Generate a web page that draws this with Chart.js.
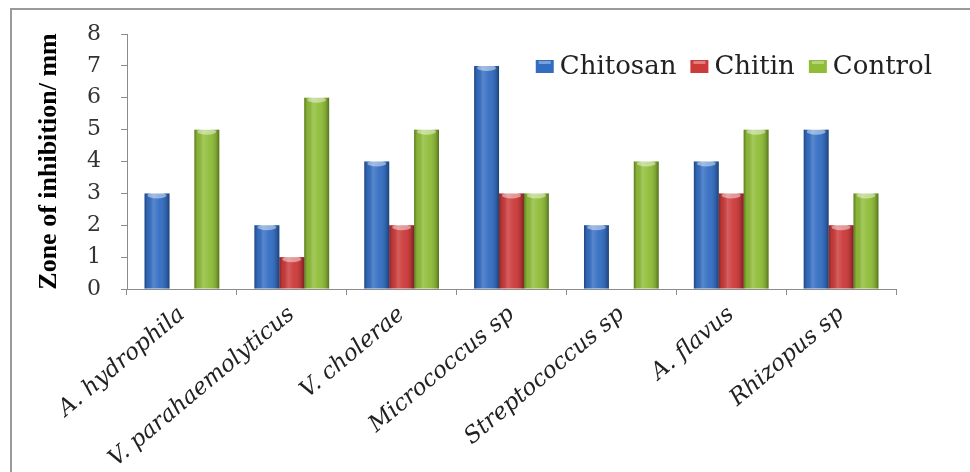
<!DOCTYPE html>
<html>
<head>
<meta charset="utf-8">
<script src="https://cdn.jsdelivr.net/npm/chart.js@4/dist/chart.umd.min.js"></script>
<style>
  html, body { margin: 0; padding: 0; background: #fff; overflow: hidden; }
  #wrap { position: relative; width: 970px; height: 472px; }
  #frame {
    position: absolute; left: 10px; top: 8px; width: 1000px; height: 500px;
    border-top: 2px solid #9a9a9a; border-left: 2px solid #9a9a9a;
    pointer-events: none;
  }
</style>
</head>
<body>
<div id="wrap">
  <canvas id="chart"></canvas>
  <div id="frame"></div>
</div>
<script>
const organisms = [
  "A. hydrophila",
  "V. parahaemolyticus",
  "V. cholerae",
  "Micrococcus sp",
  "Streptococcus sp",
  "A. flavus",
  "Rhizopus sp",
]
const chitosan = [3, 2, 4, 7, 2, 4, 5]
const chitin = [0, 1, 2, 3, 0, 3, 2]
const control = [5, 6, 5, 3, 4, 5, 3]
const yTicks = [0, 1, 2, 3, 4, 5, 6, 7, 8]

const axisGray = "#8c8c8c"

// cylinder-ish shading over each bar
const barShade = {
    id: "barShade",
    afterDatasetsDraw(chart) {
        const ctx = chart.ctx
        ctx.save()
        chart.data.datasets.forEach((ds, i) => {
            chart.getDatasetMeta(i).data.forEach((bar) => {
                const { x, y, base, width } = bar.getProps(["x", "y", "base", "width"], true)
                const h = base - y
                if (h < 1) return
                const left = x - width / 2
                const g = ctx.createLinearGradient(left, 0, left + width, 0)
                g.addColorStop(0, "rgba(0,0,0,0.35)")
                g.addColorStop(0.12, "rgba(0,0,0,0.05)")
                g.addColorStop(0.35, "rgba(255,255,255,0.18)")
                g.addColorStop(0.6, "rgba(255,255,255,0.04)")
                g.addColorStop(0.88, "rgba(0,0,0,0.15)")
                g.addColorStop(1, "rgba(0,0,0,0.40)")
                ctx.fillStyle = g
                ctx.fillRect(left, y, width, h)
                ctx.fillStyle = "rgba(255,255,255,0.45)"
                ctx.beginPath()
                ctx.ellipse(x, y + 2, width / 2 - 3, 3, 0, 0, Math.PI * 2)
                ctx.fill()
            })
        })
        ctx.restore()
    },
}

// legend drawn inside the plot, top right
const legendRight = {
    id: "legendRight",
    afterDraw(chart) {
        const ctx = chart.ctx
        ctx.save()
        ctx.font = '26px "DejaVu Serif"'
        ctx.textBaseline = "middle"
        const cy = 66
        let xr = 932
        const items = chart.data.datasets.slice().reverse()
        items.forEach((ds) => {
            const tw = ctx.measureText(ds.label).width
            const tx = xr - tw
            ctx.fillStyle = "#222"
            ctx.fillText(ds.label, tx, cy + 1)
            const bx = tx - 6 - 18
            ctx.fillStyle = ds.backgroundColor
            ctx.fillRect(bx, cy - 6, 18, 13)
            ctx.fillStyle = "rgba(255,255,255,0.35)"
            ctx.fillRect(bx + 3, cy - 5, 12, 3)
            xr = bx - 14
        })
        ctx.restore()
    },
}

new Chart(document.getElementById("chart").getContext("2d"), {
    type: "bar",
    data: {
        labels: organisms,
        datasets: [
            { label: "Chitosan", data: chitosan, backgroundColor: "#336dc2" },
            { label: "Chitin", data: chitin, backgroundColor: "#cc3a3a" },
            { label: "Control", data: control, backgroundColor: "#8fbd38" },
        ],
    },
    options: {
        responsive: true,
        maintainAspectRatio: false,
        animation: false,
        categoryPercentage: 0.68,
        barPercentage: 1,
        layout: {
            padding: { left: 22, top: 34, right: 74, bottom: 0 },
        },
        plugins: {
            legend: { display: false },
            tooltip: { enabled: false },
        },
        scales: {
            y: {
                min: 0,
                max: 8,
                afterFit: (scale) => { scale.width = 105 },
                afterBuildTicks: (scale) => {
                    scale.ticks = yTicks.map((v) => ({ value: v }))
                },
                border: { color: axisGray },
                grid: { drawOnChartArea: false, color: axisGray, tickLength: 6 },
                ticks: {
                    color: "#333",
                    padding: 20,
                    font: { family: "DejaVu Serif", size: 22 },
                },
                title: {
                    display: true,
                    text: "Zone of inhibition/ mm",
                    color: "#000",
                    padding: { top: 12, bottom: 0 },
                    font: { family: "Liberation Serif", size: 26, weight: "bold" },
                },
            },
            x: {
                afterFit: (scale) => { scale.height = 183 },
                border: { color: axisGray },
                grid: { drawOnChartArea: false, color: axisGray, tickLength: 6 },
                ticks: {
                    color: "#222",
                    padding: 6,
                    minRotation: 40,
                    maxRotation: 40,
                    autoSkip: false,
                    font: { family: "DejaVu Serif", size: 23, style: "italic" },
                },
            },
        },
    },
    plugins: [barShade, legendRight],
});
</script>
</body>
</html>
